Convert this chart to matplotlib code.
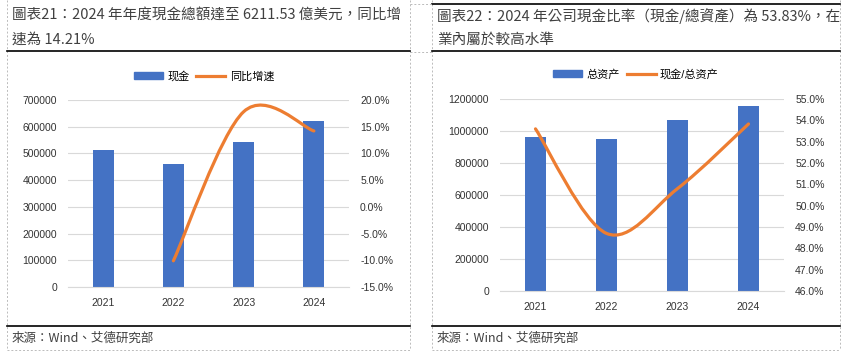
import numpy as np
import matplotlib
matplotlib.use("Agg")
import matplotlib.pyplot as plt
from matplotlib.path import Path
from matplotlib.patches import PathPatch
from matplotlib.lines import Line2D

plt.rcParams['font.family'] = ['Liberation Sans', 'Noto Sans CJK SC', 'DejaVu Sans']

# data
years = ['2021', '2022', '2023', '2024']
cash = [513000, 461000, 543000, 621153]
cash_growth = [None, -10.1, 17.8, 14.21]       # %
total_assets = [962000, 950000, 1069000, 1156000]
cash_ratio = [53.6, 48.7, 50.8, 53.83]          # %

title_left = ['圖表21：2024 年年度現金總額達至 6211.53 億美元，同比增', '速為 14.21%']
title_right = ['圖表22：2024 年公司現金比率（現金/總資產）為 53.83%，在', '業內屬於較高水準']
source = '來源：Wind、艾德研究部'

BLUE = '#4472C4'
ORANGE = '#ED7D31'
GRID = '#D9D9D9'
TXT = '#404040'

W, H = 848, 359
fig = plt.figure(figsize=(W / 100, H / 100), dpi=100)


def fx(px):
    return px / W


def fy(py):
    return 1 - py / H


def smooth_path(xs, ys):
    # cubic bezier through the points, Excel-style smoothing
    pts = np.column_stack([xs, ys]).astype(float)
    n = len(pts)
    verts = [pts[0]]
    codes = [Path.MOVETO]
    for i in range(n - 1):
        p0 = pts[i - 1] if i > 0 else pts[i]
        p1 = pts[i]
        p2 = pts[i + 1]
        p3 = pts[i + 2] if i + 2 < n else pts[i + 1]
        c1 = p1 + (p2 - p0) / 6
        c2 = p2 - (p3 - p1) / 6
        verts += [c1, c2, p2]
        codes += [Path.CURVE4] * 3
    return Path(verts, codes)


def panel(rect, bars, bar_label, line, line_label, ylim, yticks, y2lim, y2ticks, legend_xy):
    ax = fig.add_axes(rect)
    x = np.arange(len(years))
    ax.bar(x, bars, width=0.3, color=BLUE, zorder=2)
    ax.set_xlim(-0.5, len(years) - 0.5)
    ax.set_ylim(*ylim)
    ax.set_yticks(yticks)
    ax.set_yticklabels([str(v) for v in yticks])
    ax.set_xticks(x)
    ax.set_xticklabels(years)
    ax.yaxis.grid(True, color=GRID, lw=0.8, zorder=0)
    ax.set_axisbelow(True)
    for s in ['top', 'left', 'right']:
        ax.spines[s].set_visible(False)
    ax.spines['bottom'].set_color(GRID)
    ax.tick_params(length=0, labelsize=7.5, colors='#333333')
    ax.tick_params(axis='x', pad=8)
    ax.tick_params(axis='y', pad=8)

    ax2 = ax.twinx()
    xs = [i for i, v in enumerate(line) if v is not None]
    ys = [v for v in line if v is not None]
    ax2.add_patch(PathPatch(smooth_path(xs, ys), facecolor='none', edgecolor=ORANGE,
                            lw=2.3, capstyle='round', zorder=3))
    ax2.set_ylim(*y2lim)
    ax2.set_yticks(y2ticks)
    ax2.set_yticklabels(['%.1f%%' % v for v in y2ticks])
    for s in ['top', 'left', 'right', 'bottom']:
        ax2.spines[s].set_visible(False)
    ax2.tick_params(length=0, labelsize=7.5, colors='#333333', pad=8)

    handles = [plt.Rectangle((0, 0), 1, 1, color=BLUE),
               Line2D([0], [0], color=ORANGE, lw=2.3)]
    fig.legend(handles, [bar_label, line_label], loc='center',
               bbox_to_anchor=legend_xy, ncol=2, frameon=False, fontsize=8,
               handlelength=2.6, handleheight=0.5, columnspacing=0.6, handletextpad=0.4)
    return ax


panel([fx(68), fy(287), fx(349 - 68), fy(100) - fy(287)], cash, '现金', cash_growth, '同比增速',
      (0, 700000), list(range(0, 700001, 100000)), (-15, 20), list(range(-15, 21, 5)),
      (fx(204), fy(76)))
panel([fx(500), fy(291), fx(784 - 500), fy(99) - fy(291)], total_assets, '总资产', cash_ratio, '现金/总资产',
      (0, 1200000), list(range(0, 1200001, 200000)), (46, 55), list(range(46, 56)),
      (fx(636), fy(74)))

# frames, rules and titles
def hline(y, x0, x1, **kw):
    fig.add_artist(Line2D([fx(x0), fx(x1)], [fy(y), fy(y)], **kw))


def vline(x, y0, y1, **kw):
    fig.add_artist(Line2D([fx(x), fx(x)], [fy(y0), fy(y1)], **kw))


dash = dict(color='#BBBBBB', lw=0.7, ls=(0, (2, 2)))
solid = dict(color='black', lw=1.2)

for x0, x1, titles in [(7, 410, title_left), (432, 840, title_right)]:
    vline(x0, 0, 350, **dash)
    vline(x1, 0, 350, **dash)
    hline(350, x0, x1, **dash)
    hline(51, x0, x1, **solid)
    hline(326, x0, x1, **solid)
    fig.text(fx(x0 + 5), fy(16), titles[0], fontsize=10.5, color=TXT,
             family=['Noto Sans CJK TC', 'DejaVu Sans'], va='center')
    fig.text(fx(x0 + 5), fy(40), titles[1], fontsize=10.5, color=TXT,
             family=['Noto Sans CJK TC', 'DejaVu Sans'], va='center')
    fig.text(fx(x0 + 5), fy(338), source, fontsize=9, color=TXT,
             family=['Noto Sans CJK TC', 'DejaVu Sans'], va='center')

hline(4, 432, 840, **solid)
hline(4, 410, 432, **dash)
hline(52, 410, 432, **dash)

fig.savefig('out.png', dpi=100)
